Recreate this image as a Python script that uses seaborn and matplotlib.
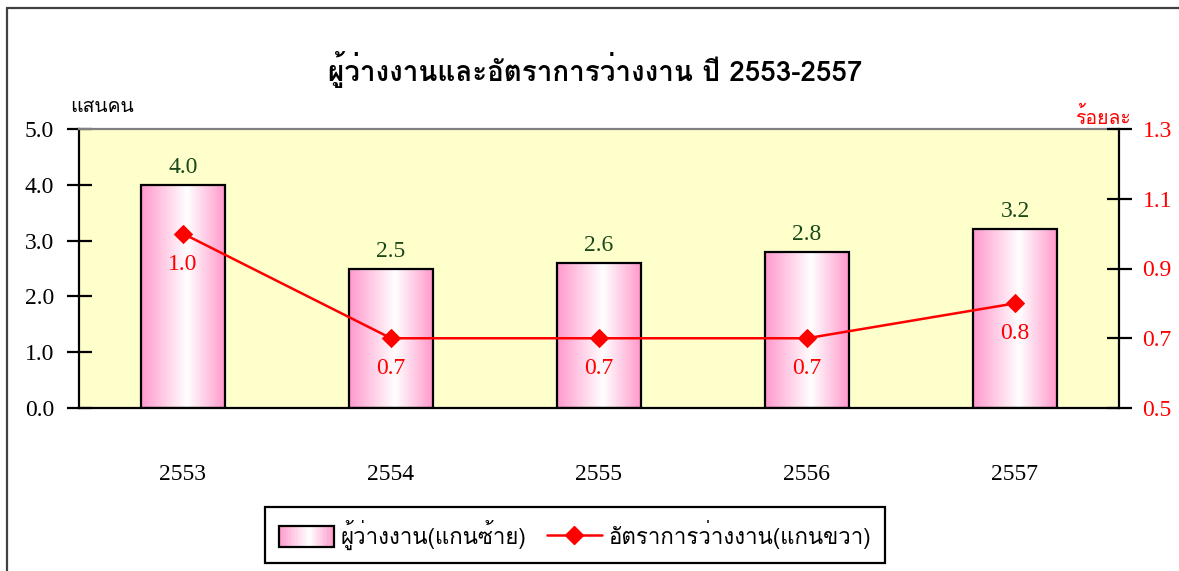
import numpy as np
import matplotlib
matplotlib.use("Agg")
import matplotlib.pyplot as plt
import seaborn as sns
from matplotlib import font_manager as fm
from matplotlib.patches import Rectangle
from matplotlib.legend_handler import HandlerBase
from matplotlib.lines import Line2D
from matplotlib.colors import LinearSegmentedColormap

# ---- data ----
years = ["2553", "2554", "2555", "2556", "2557"]
unemployed = [4.0, 2.5, 2.6, 2.8, 3.2]      # แสนคน (left axis)
rate = [1.0, 0.7, 0.7, 0.7, 0.8]            # ร้อยละ (right axis)
left_ticks = [0.0, 1.0, 2.0, 3.0, 4.0, 5.0]
right_ticks = [0.5, 0.7, 0.9, 1.1, 1.3]
title_text = "ผู้ว่างงานและอัตราการว่างงาน ปี 2553-2557"
left_unit = "แสนคน"
right_unit = "ร้อยละ"
bar_name = "ผู้ว่างงาน(แกนซ้าย)"
line_name = "อัตราการว่างงาน(แกนขวา)"


def find_thai_font():
    from matplotlib.ft2font import FT2Font
    names = []
    for f in fm.fontManager.ttflist:
        try:
            cm = FT2Font(f.fname).get_charmap()
            if 0x0E01 in cm and 0x0E49 in cm and 0x0E32 in cm:
                names.append(f.name)
        except Exception:
            pass
    pref = [n for n in names if "Sans" in n or "Loma" in n or "Garuda" in n]
    if pref:
        return pref[0]
    return names[0] if names else None


def find_serif():
    available = {f.name for f in fm.fontManager.ttflist}
    for cand in ["Liberation Serif", "Times New Roman", "Tinos", "Nimbus Roman",
                 "Nimbus Roman No9 L", "FreeSerif", "TeX Gyre Termes"]:
        if cand in available:
            return cand
    return "DejaVu Serif"


sns.set_theme(style="white")
thai = find_thai_font()
thai_fam = [thai, "DejaVu Sans"] if thai else ["DejaVu Sans"]
serif_name = find_serif()
serif = [serif_name, "DejaVu Serif"]
num_size = 17 if serif_name != "DejaVu Serif" else 16
plt.rcParams["font.family"] = serif
plt.rcParams["text.color"] = "black"
plt.rcParams["xtick.color"] = "black"
plt.rcParams["ytick.color"] = "black"
plt.rcParams["xtick.labelcolor"] = "black"
plt.rcParams["ytick.labelcolor"] = "black"

pink = "#FF99CC"
grad_cmap = LinearSegmentedColormap.from_list("pg", [(0, pink), (0.55, "#FFFFFF"), (1, pink)])

fig = plt.figure(figsize=(11.79, 5.71), dpi=100)
ax = fig.add_axes([79 / 1179, 1 - 408 / 571, (1119 - 79) / 1179, (408 - 129) / 571])
ax.set_facecolor("#FFFFCC")

sns.barplot(x=years, y=unemployed, ax=ax, width=0.4, color=pink,
            edgecolor="black", linewidth=1.6, zorder=2)

# gradient fill inside each bar
grad = np.linspace(0, 1, 256).reshape(1, -1)
for p in ax.patches:
    x0, y0 = p.get_x(), p.get_y()
    w, h = p.get_width(), p.get_height()
    p.set_facecolor("none")
    im = ax.imshow(grad, cmap=grad_cmap, extent=[x0, x0 + w, y0, y0 + h],
                   aspect="auto", zorder=1.9, interpolation="bicubic")
    im.set_clip_path(p)

ax.set_xlim(-0.5, len(years) - 0.5)
ax.set_ylim(0, 5)
ax.set_yticks(left_ticks)
ax.set_yticklabels([f"{v:.1f}" for v in left_ticks], fontsize=num_size, family=serif, color="black")
ax.set_xticks(np.arange(-0.5, len(years)), labels=[""] * (len(years) + 1))
ax.set_xticks(np.arange(len(years)), labels=years, minor=True)
ax.tick_params(axis="x", which="major", direction="inout", length=16, width=1.6, color="black")
ax.tick_params(axis="x", which="minor", length=0, pad=40, labelsize=num_size, labelcolor="black")
ax.tick_params(axis="y", direction="inout", length=18, width=1.6, color="black", pad=9)
ax.set_xlabel("")
ax.set_ylabel("")
for lab in ax.get_xticklabels(minor=True):
    lab.set_family(serif)

for s in ["left", "bottom", "right"]:
    ax.spines[s].set_color("black")
    ax.spines[s].set_linewidth(1.6)
ax.spines["top"].set_color("#808080")
ax.spines["top"].set_linewidth(1.6)

for i, v in enumerate(unemployed):
    ax.annotate(f"{v:.1f}", (i, v), xytext=(0, 5), textcoords="offset points",
                ha="center", va="bottom", fontsize=num_size, color="#1A4A1A", family=serif, zorder=5)

ax2 = ax.twinx()
sns.lineplot(x=np.arange(len(years)), y=rate, ax=ax2, color="#FF0000", linewidth=1.8,
             marker="D", markersize=9, markeredgecolor="#FF0000", zorder=4)
ax2.set_ylim(0.5, 1.3)
ax2.set_yticks(right_ticks)
ax2.set_yticklabels([f"{v:.1f}" for v in right_ticks], fontsize=num_size, color="#FF0000", family=serif)
ax2.tick_params(axis="y", direction="inout", length=18, width=1.6, color="black", pad=8)
ax2.set_ylabel("")
for s in ax2.spines.values():
    s.set_visible(False)
ax2.grid(False)
ax.grid(False)
for i, v in enumerate(rate):
    ax2.annotate(f"{v:.1f}", (i, v), xytext=(0, -22), textcoords="offset points",
                 ha="center", va="center", fontsize=num_size, color="#FF0000", family=serif, zorder=5)

# titles / units
fig.text(595 / 1179, 1 - 70 / 571, title_text, ha="center", va="center",
         fontsize=20, fontweight="bold", family=thai_fam, color="black")
fig.text(70 / 1179, 1 - 107 / 571, left_unit, ha="left", va="center",
         fontsize=14, family=thai_fam, color="black")
fig.text(1131 / 1179, 1 - 117 / 571, right_unit, ha="right", va="center",
         fontsize=14, color="#FF0000", family=thai_fam)

# outer frame lines
fig.add_artist(Line2D([7 / 1179, 7 / 1179], [0, 1 - 8 / 571], transform=fig.transFigure,
                      color="#404040", linewidth=1.6))
fig.add_artist(Line2D([7 / 1179, 1], [1 - 8 / 571, 1 - 8 / 571], transform=fig.transFigure,
                      color="#404040", linewidth=1.6))


class GradientHandler(HandlerBase):
    def create_artists(self, legend, orig_handle, xdescent, ydescent, width, height, fontsize, trans):
        arts = []
        n = 40
        for k in range(n):
            t = (k + 0.5) / n
            arts.append(Rectangle((-xdescent + k * width / n, -ydescent), width / n + 0.3, height,
                                  facecolor=grad_cmap(t), edgecolor="none", transform=trans))
        arts.append(Rectangle((-xdescent, -ydescent), width, height, facecolor="none",
                              edgecolor="black", linewidth=1.6, transform=trans))
        return arts


bar_handle = Rectangle((0, 0), 1, 1)
line_handle = Line2D([], [], color="#FF0000", linewidth=1.8, marker="D", markersize=9)
leg = fig.legend([bar_handle, line_handle], [bar_name, line_name],
                 handler_map={Rectangle: GradientHandler()},
                 loc="center", bbox_to_anchor=(575 / 1179, 1 - 535 / 571), ncol=2,
                 frameon=True, fancybox=False, edgecolor="black", framealpha=1,
                 prop=fm.FontProperties(family=thai_fam, size=16),
                 handlelength=2.5, handleheight=1.1, columnspacing=0.9, handletextpad=0.3,
                 borderpad=0.6)
leg.get_frame().set_linewidth(1.6)
for t in leg.get_texts():
    t.set_color("black")

fig.savefig("out.png", dpi=100)
